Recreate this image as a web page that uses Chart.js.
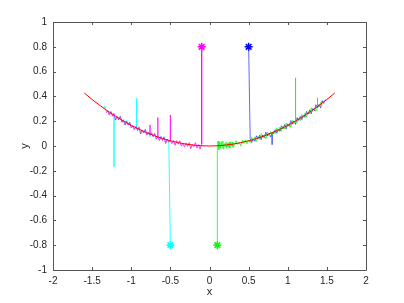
<!DOCTYPE html>
<html>
<head>
<meta charset="utf-8">
<script src="https://cdn.jsdelivr.net/npm/chart.js@4/dist/chart.umd.min.js"></script>
<style>
html,body{margin:0;padding:0;background:#fff;}
canvas{display:block;}
</style>
</head>
<body>
<canvas id="c" width="404" height="303"></canvas>
<script>
// Reference curve
const redX = [-1.6,-1.5,-1.4,-1.3,-1.2,-1.1,-1.0,-0.9,-0.8,-0.7,-0.6,-0.5,-0.4,-0.3,-0.2,-0.1,0.0,0.1,0.2,0.3,0.4,0.5,0.6,0.7,0.8,0.9,1.0,1.1,1.2,1.3,1.4,1.5,1.6];
const redY = [0.427,0.375,0.327,0.282,0.240,0.202,0.167,0.135,0.107,0.082,0.060,0.042,0.027,0.015,0.007,0.002,0.000,0.002,0.007,0.015,0.027,0.042,0.060,0.082,0.107,0.135,0.167,0.202,0.240,0.282,0.327,0.375,0.427];

// Cyan track (starts at the marker, then runs left along the curve)
const cyanX = [-0.50,-0.52,-0.54,-0.56,-0.58,-0.60,-0.62,-0.64,-0.66,-0.68,-0.70,-0.72,-0.74,-0.76,-0.78,-0.80,-0.82,-0.84,-0.86,-0.88,-0.90,-0.92,-0.93,-0.93,-0.93,-0.96,-0.98,-1.00,-1.02,-1.04,-1.06,-1.08,-1.10,-1.12,-1.14,-1.16,-1.18,-1.20,-1.22,-1.22,-1.22,-1.24,-1.26,-1.28,-1.30,-1.32,-1.34,-1.36];
const cyanY = [-0.80,0.035,0.057,0.024,0.076,0.048,0.079,0.048,0.078,0.059,0.104,0.078,0.109,0.074,0.113,0.092,0.137,0.108,0.131,0.101,0.155,0.129,0.140,0.385,0.145,0.134,0.165,0.149,0.195,0.172,0.205,0.172,0.214,0.194,0.242,0.214,0.240,0.212,0.250,-0.170,0.245,0.244,0.280,0.253,0.287,0.272,0.321,0.300];

// Magenta track
const magX = [-0.10,-0.10,-0.12,-0.14,-0.16,-0.18,-0.20,-0.22,-0.24,-0.26,-0.28,-0.30,-0.32,-0.34,-0.36,-0.38,-0.40,-0.42,-0.44,-0.46,-0.48,-0.50,-0.50,-0.50,-0.52,-0.54,-0.56,-0.58,-0.60,-0.62,-0.64,-0.66,-0.66,-0.66,-0.68,-0.70,-0.72,-0.74,-0.76,-0.76,-0.76,-0.78,-0.80,-0.82,-0.84,-0.86,-0.88,-0.90,-0.92,-0.94,-0.96,-0.98,-1.00,-1.02,-1.04,-1.06,-1.08,-1.10,-1.12,-1.14,-1.16,-1.18,-1.20,-1.22,-1.24,-1.26,-1.28,-1.30,-1.32];
const magY = [0.80,0.016,-0.024,0.011,-0.015,0.026,-0.007,0.012,-0.022,0.027,-0.003,0.026,-0.007,0.020,0.000,0.042,0.015,0.043,0.006,0.043,0.019,0.040,0.250,0.045,0.031,0.053,0.020,0.072,0.044,0.075,0.044,0.070,0.230,0.075,0.055,0.100,0.074,0.105,0.095,0.170,0.090,0.109,0.088,0.133,0.104,0.127,0.097,0.151,0.125,0.158,0.130,0.161,0.145,0.191,0.168,0.201,0.168,0.210,0.190,0.238,0.210,0.236,0.208,0.264,0.240,0.276,0.249,0.283,0.268];

// Blue track
const blueX = [0.50,0.52,0.54,0.56,0.58,0.60,0.62,0.64,0.66,0.68,0.70,0.72,0.74,0.76,0.78,0.80,0.80,0.80,0.82,0.84,0.86,0.88,0.90,0.92,0.94,0.96,0.98,1.00,1.02,1.04,1.06,1.08,1.10,1.12,1.14,1.16,1.18,1.20,1.22,1.24,1.26,1.28,1.30,1.32,1.34,1.36,1.38,1.40,1.42,1.44,1.46,1.48];
const blueY = [0.80,0.060,0.029,0.057,0.038,0.082,0.056,0.086,0.051,0.089,0.067,0.111,0.081,0.104,0.073,0.105,0.010,0.110,0.100,0.133,0.103,0.134,0.117,0.163,0.139,0.172,0.138,0.179,0.158,0.205,0.177,0.202,0.174,0.229,0.205,0.239,0.212,0.245,0.230,0.278,0.257,0.291,0.260,0.302,0.284,0.333,0.307,0.335,0.308,0.366,0.343,0.375];

// Green track
const greenX = [0.10,0.10,0.11,0.12,0.13,0.14,0.15,0.16,0.17,0.18,0.19,0.20,0.21,0.22,0.23,0.24,0.25,0.26,0.27,0.28,0.29,0.30,0.32,0.34,0.36,0.38,0.40,0.42,0.44,0.46,0.48,0.50,0.52,0.54,0.56,0.58,0.60,0.62,0.64,0.66,0.68,0.70,0.72,0.74,0.76,0.78,0.80,0.82,0.84,0.86,0.88,0.90,0.92,0.94,0.96,0.98,1.00,1.02,1.04,1.06,1.08,1.10,1.10,1.10,1.12,1.14,1.16,1.18,1.20,1.22,1.24,1.26,1.28,1.30,1.32,1.34,1.36,1.38,1.38,1.38,1.40,1.42,1.44];
const greenY = [-0.80,0.000,0.040,-0.030,0.030,-0.020,0.035,-0.010,0.040,-0.025,0.020,-0.005,0.030,-0.020,0.025,-0.010,0.030,-0.015,0.035,0.000,0.030,-0.010,0.002,0.044,0.012,0.032,-0.001,0.049,0.020,0.050,0.018,0.047,0.027,0.071,0.044,0.074,0.038,0.076,0.053,0.098,0.067,0.090,0.058,0.111,0.084,0.116,0.087,0.117,0.100,0.145,0.121,0.153,0.119,0.159,0.139,0.185,0.157,0.181,0.152,0.207,0.182,0.200,0.550,0.205,0.189,0.222,0.206,0.254,0.232,0.266,0.234,0.277,0.258,0.307,0.280,0.307,0.280,0.315,0.390,0.320,0.315,0.351,0.326];

// Start markers
const starX = [-0.5, -0.1, 0.5, 0.1];
const starY = [-0.8, 0.8, 0.8, -0.8];
const starColors = ['#00ffff', '#ff00ff', '#0000ff', '#00ff00'];

// Axis ticks
const xTicks = [-2,-1.5,-1,-0.5,0,0.5,1,1.5,2];
const yTicks = [-1,-0.8,-0.6,-0.4,-0.2,0,0.2,0.4,0.6,0.8,1];

const pts = (xs, ys) => xs.map((x, i) => ({x: x, y: ys[i]}));

function lineDs(xs, ys, color, order) {
  return {data: pts(xs, ys), borderColor: color, backgroundColor: color, showLine: true,
    pointRadius: 0, borderWidth: 1, tension: 0, order: order};
}

const datasets = [
  lineDs(cyanX, cyanY, 'rgba(0,255,255,0.8)', 5),
  lineDs(magX, magY, 'rgba(255,0,255,0.75)', 4),
  lineDs(blueX, blueY, 'rgba(0,0,255,0.6)', 3),
  lineDs(greenX, greenY, 'rgba(0,255,0,0.75)', 2),
  lineDs(redX, redY, '#ff0000', 1),
  {data: pts(starX, starY), showLine: false, pointStyle: 'star', pointRadius: 4,
   borderWidth: 1.5, pointBorderColor: starColors, pointBackgroundColor: starColors, order: 0}
];

const boxPlugin = {
  id: 'box',
  afterDatasetsDraw(chart) {
    const {ctx, chartArea: a, scales: {x, y}} = chart;
    ctx.save();
    ctx.strokeStyle = '#555';
    ctx.lineWidth = 1;
    ctx.beginPath();
    ctx.rect(Math.round(a.left) + 0.5, Math.round(a.top) + 0.5, Math.round(a.right - a.left), Math.round(a.bottom - a.top));
    const L = 3;
    xTicks.forEach(v => {
      const px = Math.round(x.getPixelForValue(v)) + 0.5;
      ctx.moveTo(px, a.bottom); ctx.lineTo(px, a.bottom - L);
      ctx.moveTo(px, a.top); ctx.lineTo(px, a.top + L);
    });
    yTicks.forEach(v => {
      const py = Math.round(y.getPixelForValue(v)) + 0.5;
      ctx.moveTo(a.left, py); ctx.lineTo(a.left + L, py);
      ctx.moveTo(a.right, py); ctx.lineTo(a.right - L, py);
    });
    ctx.stroke();
    ctx.restore();
  }
};

const tickFont = {family: "'Liberation Sans', Arial, sans-serif", size: 10};

new Chart(document.getElementById('c'), {
  type: 'scatter',
  data: {datasets: datasets},
  options: {
    responsive: false,
    animation: false,
    devicePixelRatio: 1,
    layout: {padding: {left: 0, top: 22, right: 38, bottom: 0}},
    plugins: {legend: {display: false}, tooltip: {enabled: false}},
    scales: {
      x: {
        type: 'linear', min: -2, max: 2,
        afterBuildTicks: s => { s.ticks = xTicks.map(v => ({value: v})); },
        afterFit: s => { s.height = 33; },
        grid: {display: false, drawTicks: false},
        border: {display: false},
        ticks: {font: tickFont, color: '#262626', padding: 5, maxRotation: 0,
                callback: v => String(v)},
        title: {display: true, text: 'x', font: {family: tickFont.family, size: 11}, color: '#262626',
                padding: {top: 0, bottom: 4}}
      },
      y: {
        type: 'linear', min: -1, max: 1,
        afterBuildTicks: s => { s.ticks = yTicks.map(v => ({value: v})); },
        afterFit: s => { s.width = 53; },
        grid: {display: false, drawTicks: false},
        border: {display: false},
        ticks: {font: tickFont, color: '#262626', padding: 6, callback: v => String(v)},
        title: {display: true, text: 'y', font: {family: tickFont.family, size: 11}, color: '#262626',
                padding: {top: 18, bottom: 0}}
      }
    }
  },
  plugins: [boxPlugin]
});
</script>
</body>
</html>
